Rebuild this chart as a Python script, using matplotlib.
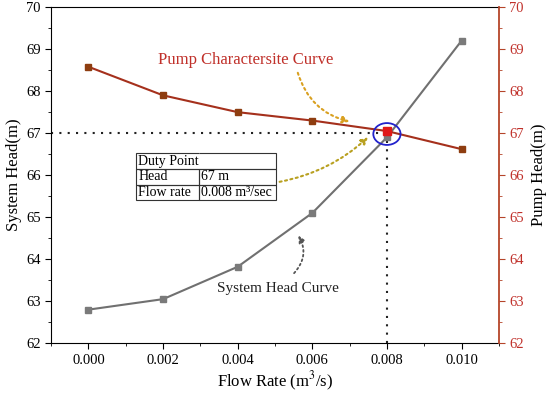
"""Pump vs system head curves with duty point."""

import matplotlib

matplotlib.use("Agg")
import matplotlib.pyplot as plt  # noqa: E402
from matplotlib.patches import Ellipse  # noqa: E402
from matplotlib.ticker import MultipleLocator  # noqa: E402

FLOW = [0.000, 0.002, 0.004, 0.006, 0.008, 0.010]
SYSTEM_HEAD = [62.8, 63.05, 63.82, 65.1, 66.9, 69.2]
PUMP_HEAD = [68.58, 67.9, 67.5, 67.3, 67.05, 66.62]
DUTY_FLOW = 0.008
DUTY_HEAD = 67.0
TABLE_ROWS = [["Duty Point", ""], ["Head", "67 m"], ["Flow rate", "0.008 m\u00b3/sec"]]

RED_AXIS = "#b5452a"
RED_TEXT = "#c0302a"
PUMP_LINE = "#a5301c"
PUMP_MARK = "#8e3d10"
GREY = "#707070"

plt.rcParams["font.family"] = ["Liberation Serif", "DejaVu Serif"]
plt.rcParams["mathtext.fontset"] = "stix"
plt.rcParams["font.size"] = 10


def run() -> None:
    fig, ax = plt.subplots(figsize=(5.5, 3.95), dpi=100)
    fig.subplots_adjust(left=0.093, right=0.907, top=0.982, bottom=0.131)

    ax.plot(FLOW, SYSTEM_HEAD, color=GREY, lw=1.5, marker="s", ms=5,
            mfc="#7a7a7a", mec="#7a7a7a", zorder=3)
    ax.plot(FLOW, PUMP_HEAD, color=PUMP_LINE, lw=1.5, marker="s", ms=5,
            mfc=PUMP_MARK, mec=PUMP_MARK, zorder=4)
    ax.plot([DUTY_FLOW], [PUMP_HEAD[4]], marker="s", ms=5.5, color="#e01818",
            zorder=5)

    ax.plot([-0.001, DUTY_FLOW], [DUTY_HEAD, DUTY_HEAD], color="#222222",
            ls=(0, (1, 3)), lw=1.5, zorder=2)
    ax.plot([DUTY_FLOW, DUTY_FLOW], [62, DUTY_HEAD], color="#222222",
            ls=(0, (1, 3)), lw=1.5, zorder=2)
    ax.add_patch(Ellipse((DUTY_FLOW, 66.98), 0.00073, 0.52, fill=False,
                         ec="#2222cc", lw=1.3, zorder=6))

    ax.set_xlim(-0.001, 0.011)
    ax.set_ylim(62, 70)
    ax.set_xticks(FLOW)
    ax.set_xticklabels([f"{v:.3f}" for v in FLOW])
    ax.xaxis.set_minor_locator(MultipleLocator(0.001))
    ax.yaxis.set_major_locator(MultipleLocator(1))
    ax.yaxis.set_minor_locator(MultipleLocator(0.5))
    ax.tick_params(which="major", direction="out", length=4, labelsize=10.5)
    ax.tick_params(which="minor", direction="out", length=2.5)
    ax.set_xlabel("Flow Rate (m$^3$/s)", fontsize=12, labelpad=2)
    ax.set_ylabel("System Head(m)", fontsize=12, labelpad=3)
    ax.spines["right"].set_visible(False)

    ax2 = ax.twinx()
    ax2.set_ylim(62, 70)
    ax2.yaxis.set_major_locator(MultipleLocator(1))
    ax2.yaxis.set_minor_locator(MultipleLocator(0.5))
    ax2.spines["right"].set_color(RED_AXIS)
    ax2.spines["right"].set_linewidth(1.3)
    ax2.tick_params(which="both", colors=RED_AXIS, direction="out")
    ax2.tick_params(which="major", length=4, labelcolor=RED_TEXT,
                    labelsize=10.5)
    ax2.tick_params(which="minor", length=2.5)
    ax2.set_ylabel("Pump Head(m)", fontsize=12, labelpad=5)
    for side in ("left", "top", "bottom"):
        ax2.spines[side].set_visible(False)

    ax.text(0.00422, 68.74, "Pump Charactersite Curve", color=RED_TEXT,
            fontsize=12, ha="center", va="center", zorder=7)
    ax.annotate("", xy=(0.00707, 67.26), xytext=(0.00559, 68.5),
                arrowprops=dict(arrowstyle="-|>", color="#d9a020", ls=":",
                                lw=1.5, connectionstyle="arc3,rad=0.3",
                                mutation_scale=10), zorder=7)
    ax.annotate("", xy=(0.00755, 66.95), xytext=(0.00505, 65.83),
                arrowprops=dict(arrowstyle="-|>", color="#b8a020", ls=":",
                                lw=1.5, connectionstyle="arc3,rad=0.15",
                                mutation_scale=10), zorder=7)

    ax.text(0.00508, 63.31, "System Head Curve", color="#222222",
            fontsize=11, ha="center", va="center", zorder=7)
    ax.annotate("", xy=(0.00559, 64.62), xytext=(0.00546, 63.62),
                arrowprops=dict(arrowstyle="-|>", color="#555555", ls=":",
                                lw=1.3, connectionstyle="arc3,rad=0.4",
                                mutation_scale=10), zorder=7)

    table = ax.table(cellText=TABLE_ROWS, colWidths=[0.14, 0.173],
                     cellLoc="left", bbox=[0.19, 0.425, 0.313, 0.14])
    table.auto_set_font_size(False)
    table.set_fontsize(10)
    for (row, col), cell in table.get_celld().items():
        cell.set_edgecolor("#333333")
        cell.set_facecolor("none")
        cell.set_linewidth(0.8)
        cell.PAD = 0.03
        if row == 0:
            cell.visible_edges = "TBL" if col == 0 else "TBR"
    table.set_zorder(8)

    fig.savefig("out.png", dpi=100)
    plt.close(fig)


if __name__ == "__main__":
    run()
